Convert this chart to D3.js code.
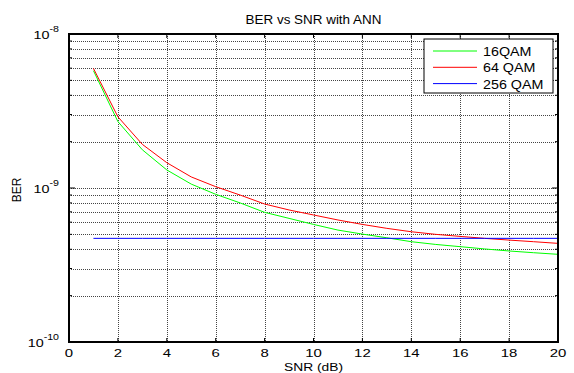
<!DOCTYPE html>
<html>
<head>
<meta charset="utf-8">
<script src="https://cdn.jsdelivr.net/npm/d3@7"></script>
<style>
  body { margin: 0; background: #fff; }
  text { font-family: "Liberation Sans", Arial, sans-serif; }
</style>
</head>
<body>
<svg id="chart" width="574" height="373"></svg>
<script>
// data
var snr = [1, 2, 3, 4, 5, 6, 7, 8, 9, 10, 11, 12, 13, 14, 15, 16, 17, 18, 19, 20];
var ber16 = [5.78e-9, 2.70e-9, 1.77e-9, 1.31e-9, 1.06e-9, 0.91e-9, 0.80e-9, 0.695e-9, 0.635e-9, 0.58e-9,
             0.533e-9, 0.502e-9, 0.475e-9, 0.448e-9, 0.43e-9, 0.416e-9, 0.402e-9, 0.39e-9, 0.38e-9, 0.371e-9];
var ber64 = [5.98e-9, 2.90e-9, 1.92e-9, 1.46e-9, 1.18e-9, 1.02e-9, 0.90e-9, 0.787e-9, 0.72e-9, 0.668e-9,
             0.62e-9, 0.58e-9, 0.547e-9, 0.52e-9, 0.50e-9, 0.485e-9, 0.471e-9, 0.459e-9, 0.448e-9, 0.437e-9];
var ber256 = [4.71e-10, 4.71e-10, 4.71e-10, 4.71e-10, 4.71e-10, 4.71e-10, 4.71e-10, 4.71e-10, 4.71e-10, 4.71e-10,
              4.71e-10, 4.71e-10, 4.71e-10, 4.71e-10, 4.71e-10, 4.71e-10, 4.71e-10, 4.71e-10, 4.71e-10, 4.71e-10];
var seriesNames = ["16QAM", "64 QAM", "256 QAM"];
var seriesColors = ["#00ff00", "#ff0000", "#0000ff"];
var xTicks = [0, 2, 4, 6, 8, 10, 12, 14, 16, 18, 20];
var yDecades = [1e-10, 1e-9, 1e-8];
var yExps = ["-10", "-9", "-8"];

var margin = {top: 34, right: 16, bottom: 31, left: 69},
    width = 574 - margin.left - margin.right,
    height = 373 - margin.top - margin.bottom;

var svg = d3.select("#chart");
var g = svg.append("g")
    .attr("transform", "translate(" + margin.left + "," + margin.top + ")");

var x = d3.scaleLinear().domain([0, 20]).range([0, width]);
var y = d3.scaleLog().domain([1e-10, 1e-8]).range([height, 0]);

// text a bit wider than normal, like the matlab export
function label(parent, px, py, str, size, sx, anchor) {
    return parent.append("text")
        .attr("transform", "translate(" + px + "," + py + ") scale(" + sx + ",1)")
        .attr("text-anchor", anchor || "middle")
        .attr("font-size", size)
        .text(str);
}

// minor log values 2..9 of each decade
var minor = [];
[1e-10, 1e-9].forEach(function (d) {
    for (var k = 2; k <= 9; k++) minor.push(d * k);
});

// grid
g.append("g").selectAll("line")
    .data(xTicks.slice(1, -1))
    .enter().append("line")
    .attr("x1", function (d) { return Math.round(x(d)) + 0.5; })
    .attr("x2", function (d) { return Math.round(x(d)) + 0.5; })
    .attr("y1", 0).attr("y2", height)
    .attr("stroke", "#444").attr("stroke-dasharray", "1,1");

g.append("g").selectAll("line")
    .data(minor.concat([1e-9]))
    .enter().append("line")
    .attr("y1", function (d) { return Math.round(y(d)) + 0.5; })
    .attr("y2", function (d) { return Math.round(y(d)) + 0.5; })
    .attr("x1", 0).attr("x2", width)
    .attr("stroke", "#444").attr("stroke-dasharray", "1,1");

// lines
var line = d3.line()
    .x(function (d) { return x(d[0]); })
    .y(function (d) { return y(d[1]); });

[ber16, ber64, ber256].forEach(function (s, i) {
    g.append("path")
        .datum(snr.map(function (v, j) { return [v, s[j]]; }))
        .attr("fill", "none")
        .attr("stroke", seriesColors[i])
        .attr("stroke-width", 1)
        .attr("d", line);
});

// axes box and ticks
g.append("rect")
    .attr("x", 0).attr("y", 0)
    .attr("width", width).attr("height", height)
    .attr("fill", "none").attr("stroke", "#000").attr("stroke-width", 2);

var xt = g.append("g");
xTicks.forEach(function (d) {
    xt.append("line").attr("x1", x(d)).attr("x2", x(d)).attr("y1", height).attr("y2", height - 4).attr("stroke", "#000");
    xt.append("line").attr("x1", x(d)).attr("x2", x(d)).attr("y1", 0).attr("y2", 4).attr("stroke", "#000");
    label(xt, x(d), height + 15, d, 11.5, 1.3);
});

var yt = g.append("g");
minor.concat(yDecades).forEach(function (d) {
    var big = yDecades.indexOf(d) >= 0;
    var len = big ? 6 : 3;
    yt.append("line").attr("x1", 0).attr("x2", len).attr("y1", y(d)).attr("y2", y(d)).attr("stroke", "#000");
    yt.append("line").attr("x1", width).attr("x2", width - len).attr("y1", y(d)).attr("y2", y(d)).attr("stroke", "#000");
});
yDecades.forEach(function (d, i) {
    var t = label(yt, -10, y(d) + 5, "", 11.5, 1.25, "end");
    t.append("tspan").text("10");
    t.append("tspan").attr("dy", -7).attr("font-size", 8.5).text(yExps[i]);
});

// labels
label(svg, margin.left + width / 2, 24, "BER vs SNR with ANN", 12, 1.12);
label(svg, margin.left + width / 2, 371, "SNR (dB)", 11.5, 1.2);
svg.append("text")
    .attr("transform", "translate(21,190) rotate(-90)")
    .attr("text-anchor", "middle").attr("font-size", 12)
    .text("BER");

// legend
var lg = svg.append("g").attr("transform", "translate(424,39)");
lg.append("rect").attr("width", 129).attr("height", 54)
    .attr("fill", "#fff").attr("stroke", "#000");
seriesNames.forEach(function (n, i) {
    var yy = 12 + i * 16.3;
    lg.append("line").attr("x1", 9).attr("x2", 53).attr("y1", yy).attr("y2", yy)
        .attr("stroke", seriesColors[i]);
    label(lg, 59, yy + 5, n, 13, 1.1, "start");
});
</script>
</body>
</html>
